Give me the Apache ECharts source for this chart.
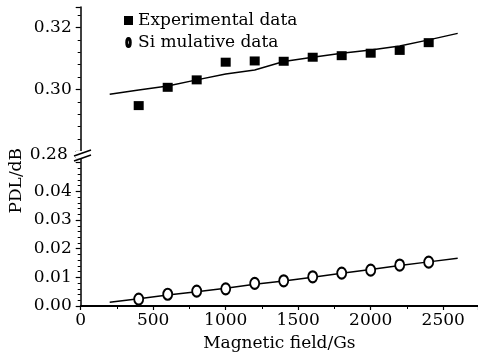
<!DOCTYPE html>
<html><head><meta charset="utf-8">
<script src="https://cdn.jsdelivr.net/npm/echarts@6/dist/echarts.min.js"></script>
<style>html,body{margin:0;padding:0;background:#fff}#c{width:478px;height:359px}</style>
</head><body><div id="c"></div>
<script>
const xPoints = [400, 600, 800, 1000, 1200, 1400, 1600, 1800, 2000, 2200, 2400];
const experimental = [0.2948, 0.3007, 0.3031, 0.3088, 0.3092, 0.3091, 0.3104, 0.3109, 0.3117, 0.3126, 0.3151];
const simulative = [0.0024, 0.0041, 0.0052, 0.0060, 0.0079, 0.0088, 0.0102, 0.0115, 0.0125, 0.0143, 0.0153];
const xFit = [200, 400, 600, 800, 1000, 1200, 1400, 1600, 1800, 2000, 2200, 2400, 2600];
const upperFit = [0.2985, 0.2998, 0.3011, 0.3031, 0.3050, 0.3063, 0.3090, 0.3104, 0.3117, 0.3127, 0.3140, 0.3160, 0.3181];
const lowerFit = [0.0013, 0.0025, 0.0038, 0.0050, 0.0062, 0.0076, 0.0087, 0.0100, 0.0114, 0.0127, 0.0141, 0.0154, 0.0167];
const upperTicks = ['0.28', '0.30', '0.32'];
const lowerTicks = ['0.00', '0.01', '0.02', '0.03', '0.04'];
const xTicks = ['0', '500', '1000', '1500', '2000', '2500'];

const F = 'DejaVu Serif';
const pair = (xs, ys) => xs.map((x, i) => [x, ys[i]]);
const chart = echarts.init(document.getElementById('c'));
const yCommon = {
  axisLine: {show: true, onZero: false, lineStyle: {color: '#000', width: 1.5}},
  axisTick: {show: true, inside: false, length: 5, lineStyle: {color: '#000', width: 1.2}},
  minorTick: {show: true, splitNumber: 5, length: 3, lineStyle: {color: '#000', width: 1}},
  splitLine: {show: false},
  axisLabel: {fontFamily: F, fontSize: 17, color: '#000', margin: 9}
};
chart.setOption({
  animation: false,
  backgroundColor: '#fff',
  grid: [
    {left: 80.7, right: 0, top: 7, bottom: 207.5},
    {left: 80.7, right: 0, top: 157, bottom: 53}
  ],
  legend: {
    left: 119, top: 7, orient: 'vertical', itemGap: 5, itemWidth: 9, itemHeight: 9,
    textStyle: {fontFamily: F, fontSize: 17, color: '#000', padding: [0, 0, 0, 0]},
    data: [
      {name: 'Experimental data', icon: 'rect'},
      {name: 'Si mulative data', icon: 'path://M5,0 A5,10 0 1,0 5,20 A5,10 0 1,0 5,0 Z M5,2.5 A3,7.5 0 1,1 5,17.5 A3,7.5 0 1,1 5,2.5 Z', itemStyle: {color: '#000'}}
    ]
  },
  xAxis: [
    {gridIndex: 0, type: 'value', min: 0, max: 2740, interval: 500, show: false},
    {gridIndex: 1, type: 'value', min: 0, max: 2740, interval: 500,
     axisLine: {show: true, onZero: false, lineStyle: {color: '#000', width: 1.8}},
     axisTick: {show: true, length: 4, lineStyle: {color: '#000', width: 1.2}},
     minorTick: {show: true, splitNumber: 2, length: 3, lineStyle: {color: '#000', width: 1}},
     splitLine: {show: false},
     axisLabel: {fontFamily: F, fontSize: 17, color: '#000', margin: 6, showMaxLabel: false,
       formatter: v => { const s = String(Math.round(v)); return xTicks.includes(s) ? s : ''; }},
     name: 'Magnetic field/Gs', nameLocation: 'middle', nameGap: 29,
     nameTextStyle: {fontFamily: F, fontSize: 17, color: '#000'}}
  ],
  yAxis: [
    Object.assign({}, yCommon, {gridIndex: 0, type: 'value', min: 0.28, max: 0.3266, interval: 0.02,
      axisLabel: Object.assign({}, yCommon.axisLabel, {
        formatter: v => { const s = v.toFixed(2); if (!upperTicks.includes(s)) return ''; return s === '0.28' ? '{low|' + s + '}' : s; },
        rich: {low: {fontFamily: F, fontSize: 17, color: '#000', padding: [6, 4, 0, 0]}},
        showMaxLabel: false})}),
    Object.assign({}, yCommon, {gridIndex: 1, type: 'value', min: 0, max: 0.052, interval: 0.01,
      axisLabel: Object.assign({}, yCommon.axisLabel, {
        formatter: v => { const s = v.toFixed(2); return lowerTicks.includes(s) ? s : ''; },
        showMaxLabel: false})})
  ],
  graphic: [
    {type: 'text', left: 8, top: 148, rotation: Math.PI / 2, origin: [0, 0],
     style: {text: 'PDL/dB', font: '17px "DejaVu Serif"', fill: '#000'}},
    {type: 'rect', shape: {x: 76, y: 151, width: 10, height: 7}, style: {fill: '#fff'}, z: 100},
    {type: 'line', shape: {x1: 74, y1: 156, x2: 91, y2: 150}, style: {stroke: '#000', lineWidth: 1.5}, z: 101},
    {type: 'line', shape: {x1: 74, y1: 161, x2: 91, y2: 155}, style: {stroke: '#000', lineWidth: 1.5}, z: 101}
  ],
  series: [
    {name: 'Experimental fit', type: 'line', xAxisIndex: 0, yAxisIndex: 0, data: pair(xFit, upperFit),
     showSymbol: false, symbol: 'none', lineStyle: {color: '#000', width: 1.5}, z: 2},
    {name: 'Simulative fit', type: 'line', xAxisIndex: 1, yAxisIndex: 1, data: pair(xFit, lowerFit),
     showSymbol: false, symbol: 'none', lineStyle: {color: '#000', width: 1.5}, z: 2},
    {name: 'Experimental data', type: 'scatter', xAxisIndex: 0, yAxisIndex: 0, data: pair(xPoints, experimental),
     symbol: 'rect', symbolSize: [10, 9], itemStyle: {color: '#000', opacity: 1}, z: 3},
    {name: 'Si mulative data', type: 'scatter', xAxisIndex: 1, yAxisIndex: 1, data: pair(xPoints, simulative),
     symbol: 'emptyCircle', symbolSize: [9, 11], itemStyle: {color: '#000', borderColor: '#000', borderWidth: 1.5, opacity: 1}, z: 3}
  ]
});
</script></body></html>
